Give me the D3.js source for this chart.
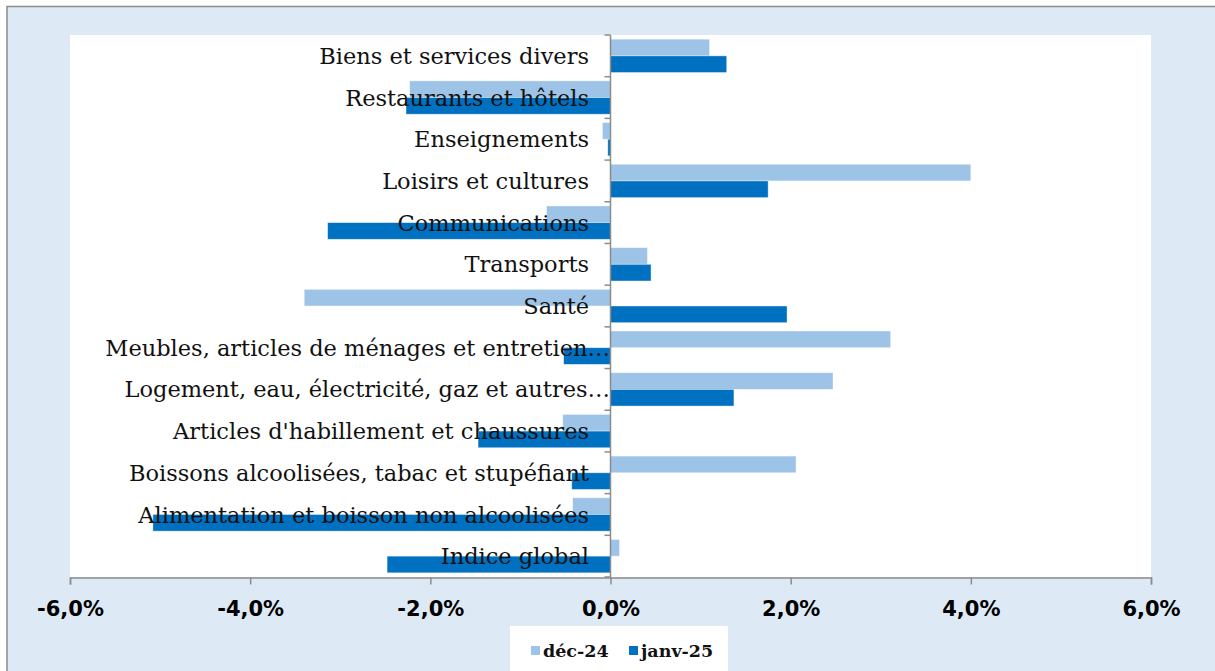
<!DOCTYPE html>
<html><head><meta charset="utf-8">
<script src="https://cdn.jsdelivr.net/npm/d3@7"></script>
<style>body{margin:0;background:#fff}svg{display:block}</style>
</head><body>
<svg id="chart" width="1215" height="671"></svg>
<script>
const categories = [
  "Biens et services divers",
  "Restaurants et hôtels",
  "Enseignements",
  "Loisirs et cultures",
  "Communications",
  "Transports",
  "Santé",
  "Meubles, articles de ménages et entretien…",
  "Logement, eau, électricité, gaz et autres…",
  "Articles d'habillement et chaussures",
  "Boissons alcoolisées, tabac et stupéfiant",
  "Alimentation et boisson non alcoolisées",
  "Indice global"
];
const seriesNames = ["déc-24", "janv-25"];
const dec24  = [1.10, -2.23, -0.09, 4.00, -0.71, 0.41, -3.40, 3.11, 2.47, -0.53, 2.06, -0.42, 0.10];
const janv25 = [1.29, -2.27, -0.03, 1.75, -3.14, 0.45, 1.96, -0.52, 1.37, -1.47, -0.43, -5.08, -2.48];
const xTicks = [-6, -4, -2, 0, 2, 4, 6];
const colors = ["#9DC3E6", "#0070C0"];

const svg = d3.select("#chart");
svg.append("rect").attr("x", 7).attr("y", 6.5).attr("width", 1215).attr("height", 700)
  .attr("fill", "#DDE9F5").attr("stroke", "#8c8c8c").attr("stroke-width", 1.5);

const L = 70, R = 1151, T = 35, B = 577;
svg.append("rect").attr("x", L).attr("y", T).attr("width", R - L).attr("height", B - T).attr("fill", "#fff");

const x = d3.scaleLinear().domain([-6, 6]).range([L, R]);
const y = d3.scaleBand().domain(categories).range([T, B]).paddingInner(0.2).paddingOuter(0.1);
const sub = d3.scaleBand().domain(seriesNames).range([0, y.bandwidth()]);

const data = [dec24, janv25];
seriesNames.forEach((s, si) => {
  svg.append("g").selectAll("rect").data(categories).join("rect")
    .attr("x", (c, i) => x(Math.min(0, data[si][i])))
    .attr("width", (c, i) => Math.abs(x(data[si][i]) - x(0)))
    .attr("y", c => y(c) + sub(s))
    .attr("height", sub.bandwidth())
    .attr("fill", colors[si])
    .attr("stroke", "rgba(255,255,255,0.5)").attr("stroke-width", 0.8);
});

// category labels
svg.append("g").selectAll("text").data(categories).join("text")
  .attr("x", c => c.endsWith("…") ? 610 : 589)
  .attr("y", c => y(c) + y.bandwidth() / 2)
  .attr("dy", "0.36em").attr("text-anchor", "end")
  .style("font-family", "'DejaVu Serif', serif").style("font-size", "22.5px")
  .attr("fill", "#111").text(c => c);

// vertical category axis at zero
const bounds = d3.range(categories.length + 1).map(i => T + i * (B - T) / categories.length);
const gy = svg.append("g");
gy.append("line").attr("x1", x(0)).attr("x2", x(0)).attr("y1", T).attr("y2", B)
  .attr("stroke", "#8c8c8c").attr("stroke-width", 1.5);
gy.selectAll("line.t").data(bounds).join("line").attr("class", "t")
  .attr("x1", x(0) - 6).attr("x2", x(0)).attr("y1", d => d).attr("y2", d => d)
  .attr("stroke", "#8c8c8c").attr("stroke-width", 1.5);

// x axis
const xAxis = d3.axisBottom(x).tickValues(xTicks).tickSize(7).tickPadding(17)
  .tickFormat(d => d3.format(".1f")(d).replace(".", ",").replace("\u2212", "-") + "%");
const gx = svg.append("g").attr("transform", `translate(0,${B + 0.5})`).call(xAxis);
gx.select(".domain").attr("stroke", "#8c8c8c").attr("stroke-width", 1.5);
gx.selectAll(".tick line").attr("stroke", "#8c8c8c").attr("stroke-width", 1.5);
gx.selectAll(".tick text").style("font-family", "'DejaVu Sans', Verdana, sans-serif")
  .style("font-size", "21px").style("font-weight", "bold").attr("fill", "#000");

// legend
const lg = svg.append("g");
lg.append("rect").attr("x", 510).attr("y", 626).attr("width", 218).attr("height", 50).attr("fill", "#fff");
const items = [{n: seriesNames[0], x: 531, c: colors[0]}, {n: seriesNames[1], x: 629, c: colors[1]}];
items.forEach(it => {
  lg.append("rect").attr("x", it.x).attr("y", 646).attr("width", 9).attr("height", 9).attr("fill", it.c);
  lg.append("text").attr("x", it.x + 12).attr("y", 651).attr("dy", "0.36em")
    .style("font-family", "'DejaVu Serif', serif").style("font-weight", "bold").style("font-size", "17.5px")
    .attr("fill", "#111").text(it.n);
});
</script>
</body></html>
